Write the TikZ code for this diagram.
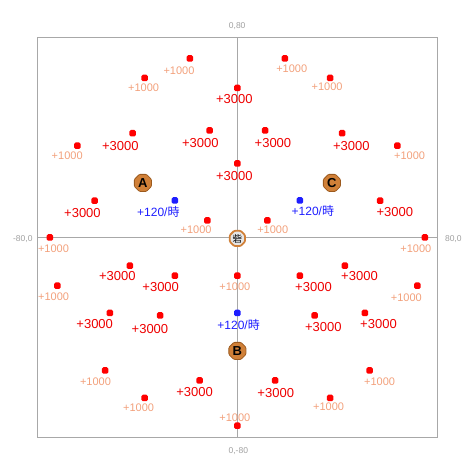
\documentclass[tikz,border=0pt]{standalone}
\usepackage{fontspec}
\setmainfont{Liberation Sans}
\newfontfamily\jpfont{Noto Sans CJK JP}
\usepackage{tikz}
\usepackage{xcolor}
\definecolor{spot_red}{HTML}{FF0000}
\definecolor{gain_red}{HTML}{EE0000}
\definecolor{gain_salmon}{HTML}{F2A07B}
\definecolor{rate_blue}{HTML}{1E1EFF}
\definecolor{frame_gray}{HTML}{A8A8A8}
\definecolor{axis_text}{HTML}{A0A0A0}
\definecolor{icon_orange}{HTML}{D08038}
\definecolor{icon_edge}{HTML}{9C5A1E}
\definecolor{camp_fill}{HTML}{E6E6E6}
\usetikzlibrary{shapes.geometric,positioning,calc}
\tikzset{FRAME/.style={draw=frame_gray, line width=1.1pt}}
\tikzset{AXIS/.style={draw=frame_gray, line width=0.9pt}}
\tikzset{AXIS_LABEL/.style={inner sep=0pt, text=axis_text, font=\fontsize{8.5pt}{8.5pt}\selectfont}}
\tikzset{SPOT/.style={rectangle, rounded corners=1.6pt, minimum size=6.6pt, inner sep=0pt, fill=spot_red}}
\tikzset{RATE_SPOT/.style={SPOT, fill=rate_blue}}
\tikzset{BIG_GAIN/.style={inner sep=0pt, text=gain_red, font=\fontsize{13pt}{13pt}\selectfont}}
\tikzset{SMALL_GAIN/.style={inner sep=0pt, text=gain_salmon, font=\fontsize{11pt}{11pt}\selectfont}}
\tikzset{RATE/.style={inner sep=0pt, text=rate_blue, font=\fontsize{12pt}{12pt}\selectfont}}
\tikzset{ICON/.style={regular polygon, regular polygon sides=8, minimum size=18.5pt, inner sep=0pt, rounded corners=1pt, fill=icon_orange, draw=icon_edge, line width=0.8pt, text=black, font=\fontsize{13pt}{13pt}\selectfont\bfseries}}
\tikzset{CAMP/.style={regular polygon, regular polygon sides=8, minimum size=16.5pt, inner sep=0pt, rounded corners=1pt, fill=camp_fill, draw=icon_orange, line width=1.8pt, font=\jpfont\fontsize{9.5pt}{9.5pt}\selectfont}}

\begin{document}
\begin{tikzpicture}[x=2.5pt, y=2.5pt]
\useasboundingbox (-94.96,-95.04) rectangle (95.04,94.96);

% frame and axes
\coordinate (c_sw) at (-80,-80);
\coordinate (c_ne) at (80,80);
\coordinate (c_left) at (-80,0);
\coordinate (c_right) at (80,0);
\coordinate (c_top) at (0,80);
\coordinate (c_bottom) at (0,-80);
\draw[FRAME] (c_sw) rectangle (c_ne);
\draw[AXIS] (c_left) -- (c_right);
\draw[AXIS] (c_top) -- (c_bottom);

\node[AXIS_LABEL] (n_lbl_top) at ($(c_top)+(-0.2pt,11.7pt)$) {0,80};
\node[AXIS_LABEL] (n_lbl_bottom) at ($(c_bottom)+(0.9pt,-13.3pt)$) {0,-80};
\node[AXIS_LABEL] (n_lbl_left) at ($(c_left)+(-14.6pt,-1.6pt)$) {-80,0};
\node[AXIS_LABEL] (n_lbl_right) at ($(c_right)+(15.9pt,-1.6pt)$) {80,0};

% upper left
\node[SPOT] (n_p1) at (-19,71.6) {};
\node[SMALL_GAIN] (l_p1) at ($(n_p1)+(-10.9pt,-12pt)$) {+1000};
\node[SPOT] (n_p2) at (-37.1,63.8) {};
\node[SMALL_GAIN] (l_p2) at ($(n_p2)+(-1.1pt,-10.3pt)$) {+1000};
\node[SPOT] (n_p3) at (0,59.8) {};
\node[BIG_GAIN] (l_p3) at ($(n_p3)+(-3.1pt,-11.5pt)$) {+3000};
\node[SPOT] (n_p4) at (-41.9,41.7) {};
\node[BIG_GAIN] (l_p4) at ($(n_p4)+(-12.3pt,-12.7pt)$) {+3000};
\node[SPOT] (n_p5) at (-11.1,42.8) {};
\node[BIG_GAIN] (l_p5) at ($(n_p5)+(-9.3pt,-12.4pt)$) {+3000};
\node[SPOT] (n_p6) at (-64,36.7) {};
\node[SMALL_GAIN] (l_p6) at ($(n_p6)+(-10.2pt,-10.3pt)$) {+1000};
\node[SPOT] (n_p7) at (0,29.6) {};
\node[BIG_GAIN] (l_p7) at ($(n_p7)+(-3.1pt,-12.7pt)$) {+3000};
\node[SPOT] (n_p8) at (-57.1,14.7) {};
\node[BIG_GAIN] (l_p8) at ($(n_p8)+(-12.2pt,-12pt)$) {+3000};
\node[RATE_SPOT] (n_b1) at (-25,14.8) {};
\node[RATE] (l_b1) at ($(n_b1)+(-16.5pt,-11.7pt)$) {+120/{\jpfont 時}};
\node[SPOT] (n_p9) at (-12,6.8) {};
\node[SMALL_GAIN] (l_p9) at ($(n_p9)+(-11.3pt,-9.7pt)$) {+1000};
\node[SPOT] (n_p10) at (-75,0) {};
\node[SMALL_GAIN] (l_p10) at ($(n_p10)+(3.6pt,-11.7pt)$) {+1000};

% upper right
\node[SPOT] (n_p11) at (19,71.6) {};
\node[SMALL_GAIN] (l_p11) at ($(n_p11)+(6.8pt,-10.7pt)$) {+1000};
\node[SPOT] (n_p12) at (37.1,63.8) {};
\node[SMALL_GAIN] (l_p12) at ($(n_p12)+(-3pt,-9.3pt)$) {+1000};
\node[SPOT] (n_p13) at (11.1,42.8) {};
\node[BIG_GAIN] (l_p13) at ($(n_p13)+(7.8pt,-12.4pt)$) {+3000};
\node[SPOT] (n_p14) at (41.9,41.7) {};
\node[BIG_GAIN] (l_p14) at ($(n_p14)+(9.2pt,-12.7pt)$) {+3000};
\node[SPOT] (n_p15) at (64,36.7) {};
\node[SMALL_GAIN] (l_p15) at ($(n_p15)+(12.2pt,-10.3pt)$) {+1000};
\node[RATE_SPOT] (n_b2) at (25,14.8) {};
\node[RATE] (l_b2) at ($(n_b2)+(13pt,-10.4pt)$) {+120/{\jpfont 時}};
\node[SPOT] (n_p16) at (57.1,14.7) {};
\node[BIG_GAIN] (l_p16) at ($(n_p16)+(14.7pt,-11pt)$) {+3000};
\node[SPOT] (n_p17) at (12,6.8) {};
\node[SMALL_GAIN] (l_p17) at ($(n_p17)+(5.3pt,-9pt)$) {+1000};
\node[SPOT] (n_p18) at (75,0) {};
\node[SMALL_GAIN] (l_p18) at ($(n_p18)+(-9pt,-11.7pt)$) {+1000};

% lower left
\node[SPOT] (n_p19) at (-43,-11.3) {};
\node[BIG_GAIN] (l_p19) at ($(n_p19)+(-12.5pt,-10.6pt)$) {+3000};
\node[SPOT] (n_p20) at (-25,-15.3) {};
\node[BIG_GAIN] (l_p20) at ($(n_p20)+(-14.2pt,-11pt)$) {+3000};
\node[SPOT] (n_p21) at (0,-15.3) {};
\node[SMALL_GAIN] (l_p21) at ($(n_p21)+(-2.6pt,-11.3pt)$) {+1000};
\node[SPOT] (n_p22) at (-72,-19.3) {};
\node[SMALL_GAIN] (l_p22) at ($(n_p22)+(-3.8pt,-11pt)$) {+1000};
\node[SPOT] (n_p23) at (-51,-30.2) {};
\node[BIG_GAIN] (l_p23) at ($(n_p23)+(-15.2pt,-11pt)$) {+3000};
\node[SPOT] (n_p24) at (-30.9,-31.2) {};
\node[BIG_GAIN] (l_p24) at ($(n_p24)+(-10.2pt,-14pt)$) {+3000};
\node[RATE_SPOT] (n_b3) at (0,-30.2) {};
\node[RATE] (l_b3) at ($(n_b3)+(1.2pt,-12pt)$) {+120/{\jpfont 時}};
\node[SPOT] (n_p25) at (-52.9,-53.2) {};
\node[SMALL_GAIN] (l_p25) at ($(n_p25)+(-9.7pt,-11.7pt)$) {+1000};
\node[SPOT] (n_p26) at (-15.1,-57.2) {};
\node[BIG_GAIN] (l_p26) at ($(n_p26)+(-5.1pt,-12pt)$) {+3000};
\node[SPOT] (n_p27) at (-37.1,-64.2) {};
\node[SMALL_GAIN] (l_p27) at ($(n_p27)+(-6.1pt,-10.3pt)$) {+1000};
\node[SPOT] (n_p28) at (0,-75.3) {};
\node[SMALL_GAIN] (l_p28) at ($(n_p28)+(-2.6pt,8pt)$) {+1000};

% lower right
\node[SPOT] (n_p29) at (43,-11.3) {};
\node[BIG_GAIN] (l_p29) at ($(n_p29)+(14.6pt,-10.6pt)$) {+3000};
\node[SPOT] (n_p30) at (25,-15.3) {};
\node[BIG_GAIN] (l_p30) at ($(n_p30)+(13.6pt,-11pt)$) {+3000};
\node[SPOT] (n_p31) at (72,-19.3) {};
\node[SMALL_GAIN] (l_p31) at ($(n_p31)+(-11pt,-11.6pt)$) {+1000};
\node[SPOT] (n_p32) at (30.9,-31.2) {};
\node[BIG_GAIN] (l_p32) at ($(n_p32)+(8.7pt,-12pt)$) {+3000};
\node[SPOT] (n_p33) at (51,-30.2) {};
\node[BIG_GAIN] (l_p33) at ($(n_p33)+(13.6pt,-11.3pt)$) {+3000};
\node[SPOT] (n_p34) at (52.9,-53.2) {};
\node[SMALL_GAIN] (l_p34) at ($(n_p34)+(9.9pt,-11.7pt)$) {+1000};
\node[SPOT] (n_p35) at (15.1,-57.2) {};
\node[BIG_GAIN] (l_p35) at ($(n_p35)+(0.6pt,-12.4pt)$) {+3000};
\node[SPOT] (n_p36) at (37.1,-64.2) {};
\node[SMALL_GAIN] (l_p36) at ($(n_p36)+(-1.5pt,-9.3pt)$) {+1000};

% bases
\node[CAMP] (n_camp) at (0,-0.4) {砦};
\node[ICON] (n_icon_a) at (-37.8,21.8) {A};
\node[ICON] (n_icon_b) at (0,-45.4) {B};
\node[ICON] (n_icon_c) at (37.8,21.8) {C};

\end{tikzpicture}
\end{document}
